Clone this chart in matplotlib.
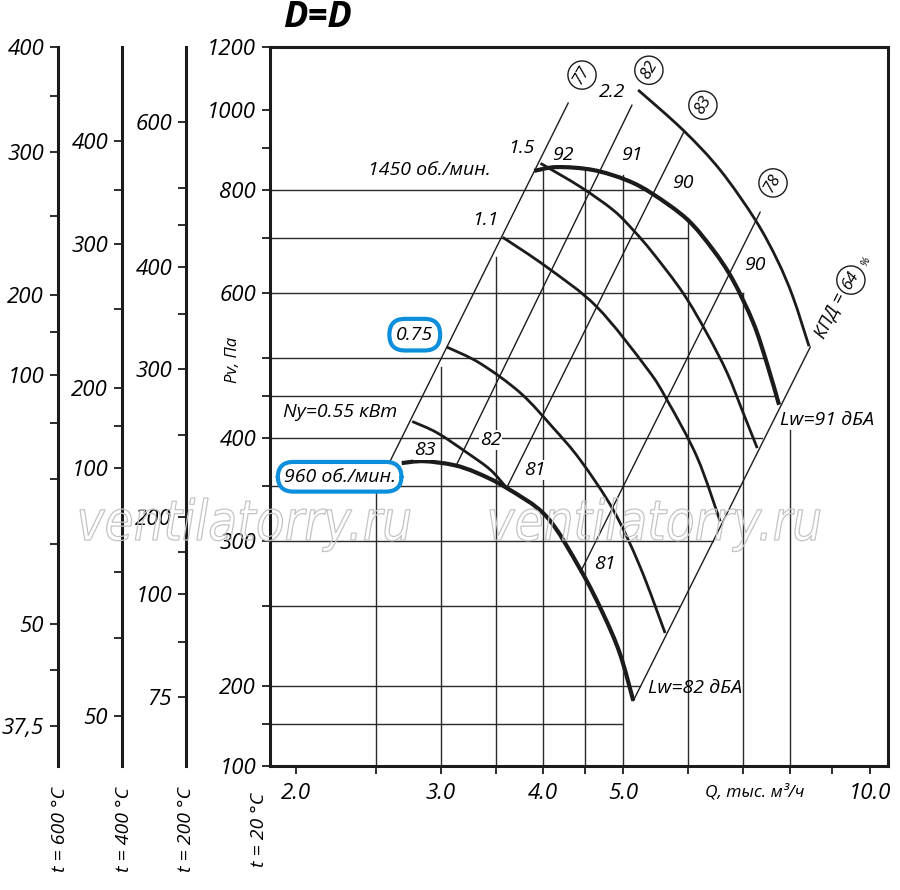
import matplotlib
matplotlib.use('Agg')
import matplotlib.pyplot as plt
import numpy as np
from matplotlib.path import Path
from matplotlib.textpath import TextPath
from matplotlib.patches import PathPatch
from matplotlib.font_manager import FontProperties
from matplotlib.transforms import Affine2D

plt.rcParams['font.family'] = ['Open Sans', 'DejaVu Sans']
plt.rcParams['font.style'] = 'italic'

# data (Q in thousand m3/h, Pv in Pa) ##########################################
q_lim = (1.859, 10.52)
pv_lim = (160, 1193)

# main Pv axis (t = 20 C)
pv_ticks = [160, 180, 200, 250, 300, 350, 400, 450, 500, 600, 700, 800, 900, 1000, 1193]
pv_labels = ['100', '', '200', '', '300', '', '400', '', '', '600', '', '800', '', '1000', '1200']
q_ticks = [2, 2.5, 3, 3.5, 4, 4.5, 5, 6, 7, 8, 9, 10]
q_labels = ['2.0', '', '3.0', '', '4.0', '', '5.0', '', '', '', '', '10.0']

# temperature scales, given as positions on the Pv axis
t600_ticks = [1194, 1040, 890, 744, 597, 538, 477, 417, 357, 298, 238, 209, 179]
t600_labels = ['400', '', '300', '', '200', '', '100', '', '', '', '50', '', '37,5']
t400_ticks = [917, 801, 688, 574, 460, 414, 368, 275, 229, 184]
t400_labels = ['400', '', '300', '', '200', '', '100', '', '', '50']
t200_ticks = [967, 804, 725, 645, 566, 485, 403, 321, 291, 259, 226, 194]
t200_labels = ['600', '', '', '400', '', '300', '', '200', '', '100', '', '75']

# fan curves
n960_q = [2.69, 2.86, 3.11, 3.32, 3.61, 4.04, 4.44, 4.73, 4.96, 5.15]
n960_p = [373, 375, 371, 363, 348, 321, 277, 245, 219, 192]
n1450_q = [3.90, 4.16, 4.60, 5.06, 5.44, 5.99, 6.44, 6.81, 7.21, 7.49, 7.75]
n1450_p = [844, 853, 846, 822, 791, 737, 677, 622, 552, 493, 439]

# motor power curves
ny055_q = [2.77, 2.97, 3.23, 3.45, 3.61]
ny055_p = [419, 406, 384, 366, 348]
ny075_q = [3.05, 3.35, 3.75, 4.11, 4.44, 4.87, 5.25, 5.63]
ny075_p = [516, 493, 454, 412, 376, 327, 279, 232]
ny11_q = [3.57, 4.04, 4.65, 5.35, 5.66, 6.16, 6.57]
ny11_p = [701, 645, 577, 486, 445, 379, 317]
ny15_q = [3.97, 4.44, 4.87, 5.15, 5.44, 5.92, 6.33, 6.70, 7.01, 7.29]
ny15_p = [862, 807, 756, 715, 671, 600, 536, 480, 429, 389]
ny22_q = [5.22, 5.92, 6.57, 7.25, 7.71, 8.06, 8.43]
ny22_p = [1058, 946, 846, 736, 658, 593, 517]

# efficiency rays (start / end)
eff_names = ['77', '82', '83', '78', '64']
eff_q = [(2.60, 4.29), (3.14, 5.13), (3.61, 5.94), (4.44, 7.35), (5.15, 8.46)]
eff_p = [(374, 1020), (372, 1014), (348, 943), (275, 752), (192, 516)]
eff_lab_q = [4.46, 5.38, 6.26, 7.62, 9.48]
eff_lab_p = [1103, 1118, 1014, 816, 622]

# grid
hgrid_p = [800, 700, 600, 500, 450, 400, 350, 300, 250, 200, 180]
hgrid_qend = [5.32, 6.0, 7.0, 7.47, 7.71, 7.39, 6.95, 6.44, 5.86, 5.25, 4.99]
vgrid_q = [2.5, 3.0, 3.5, 4.0, 4.5, 5.0, 6.0, 7.0, 8.0]
vgrid_ptop = [348, 488, 663, 844, 848, 834, 740, 600, 409]

# plain labels on the field
lab_text = ['1450 об./мин.', '1.5', '92', '91', '1.1', '90', '2.2', '90',
            'Ny=0.55 кВт', '83', '82', '81', '81']
lab_q = [2.91, 3.76, 4.23, 5.13, 3.40, 5.92, 4.85, 7.25, 2.26, 2.87, 3.45, 3.91, 4.76]
lab_p = [846, 899, 882, 882, 736, 816, 1052, 649, 430, 387, 398, 366, 281]

# figure #######################################################################
W, H = 900, 890
fig = plt.figure(figsize=(9, 8.9), dpi=100)
ax_box = [270 / W, (H - 766) / H, 618 / W, 719 / H]
ax = fig.add_axes(ax_box)
ax.set_xscale('log')
ax.set_yscale('log')
ax.set_xlim(q_lim)
ax.set_ylim(pv_lim)

ink = '#1b1b1b'
grid_c = '#2a2a2a'


def curve(q, p, lw, z):
    # smooth line through the read points (Catmull-Rom in log space)
    pts = np.column_stack([np.log10(q), np.log10(p)])
    ext = np.vstack([pts[0], pts, pts[-1]])
    verts = [pts[0]]
    codes = [Path.MOVETO]
    for i in range(len(pts) - 1):
        p0, p1, p2, p3 = ext[i], ext[i + 1], ext[i + 2], ext[i + 3]
        verts += [p1 + (p2 - p0) / 6, p2 - (p3 - p1) / 6, p2]
        codes += [Path.CURVE4] * 3
    path = Path(10 ** np.array(verts), codes)
    ax.add_patch(PathPatch(path, fc='none', ec=ink, lw=lw, capstyle='butt', zorder=z))


for p, qe in zip(hgrid_p, hgrid_qend):
    ax.plot([q_lim[0], qe], [p, p], color=grid_c, lw=1.0, zorder=1)
for q, pt in zip(vgrid_q, vgrid_ptop):
    ax.plot([q, q], [pv_lim[0], pt], color=grid_c, lw=1.0, zorder=1)

for (q0, q1), (p0, p1) in zip(eff_q, eff_p):
    ax.plot([q0, q1], [p0, p1], color=ink, lw=1.0, zorder=2)

for q, p in [(ny055_q, ny055_p), (ny075_q, ny075_p), (ny11_q, ny11_p),
             (ny15_q, ny15_p), (ny22_q, ny22_p)]:
    curve(q, p, 2.0, 3)
curve(n960_q, n960_p, 3.0, 4)
curve(n1450_q, n1450_p, 3.0, 4)

# labels
for s, q, p in zip(lab_text, lab_q, lab_p):
    ax.text(q, p, s, ha='center', va='center', fontsize=14, zorder=6,
            bbox=dict(boxstyle='square,pad=0.05', fc='white', ec='none'))

for s, q, p in zip(eff_names, eff_lab_q, eff_lab_p):
    ax.text(q, p, s, ha='center', va='center', fontsize=12, rotation=60, zorder=6,
            bbox=dict(boxstyle='circle,pad=0.3', fc='white', ec=ink, lw=1.0))
ax.text(8.94, 564, 'КПД =', ha='center', va='center', fontsize=13, rotation=63, zorder=6)
ax.text(9.9, 655, '%', ha='center', va='center', fontsize=8, rotation=63, zorder=6)

blue = '#0b8fdc'
ax.text(2.79, 534, '0.75', ha='center', va='center', fontsize=14, zorder=7,
        bbox=dict(boxstyle='round,pad=0.35,rounding_size=0.8', fc='white', ec=blue, lw=3))
ax.text(2.26, 359, '960 об./мин.', ha='center', va='center', fontsize=14, zorder=7,
        bbox=dict(boxstyle='round,pad=0.3,rounding_size=0.8', fc='white', ec=blue, lw=3))

ax.text(7.77, 421, 'Lw=91 дБА', ha='left', va='center', fontsize=14, zorder=6)
ax.text(5.37, 199, 'Lw=82 дБА', ha='left', va='center', fontsize=14, zorder=6)

# axes styling
for s in ax.spines.values():
    s.set_linewidth(2.2)
    s.set_color(ink)
ax.set_xticks(q_ticks, q_labels)
ax.set_yticks(pv_ticks, pv_labels)
ax.xaxis.set_minor_locator(plt.NullLocator())
ax.yaxis.set_minor_locator(plt.NullLocator())
ax.tick_params(direction='out', length=6, width=1.3, labelsize=16, color=ink, pad=4)
ax.tick_params(axis='x', pad=6)


def side_axis(xpx, ticks, labels):
    a = fig.add_axes([xpx / W, ax_box[1], 0.0001, ax_box[3]])
    a.set_yscale('log')
    a.set_ylim(pv_lim)
    a.set_yticks(ticks, labels)
    a.yaxis.set_minor_locator(plt.NullLocator())
    a.set_xticks([])
    for s in ['top', 'right', 'bottom']:
        a.spines[s].set_visible(False)
    a.spines['left'].set_linewidth(2.2)
    a.spines['left'].set_color(ink)
    a.patch.set_visible(False)
    a.tick_params(axis='y', direction='out', length=6, width=1.3, labelsize=16,
                  color=ink, pad=4)
    return a


side_axis(58, t600_ticks, t600_labels)
side_axis(122, t400_ticks, t400_labels)
side_axis(186, t200_ticks, t200_labels)

for xpx, s in [(60, 't = 600 °C'), (124, 't = 400 °C'), (186, 't = 200 °C'), (259, 't = 20 °C')]:
    fig.text(xpx / W, 1 - 830 / H, s, rotation=90, ha='center', va='center', fontsize=14)

fig.text(283 / W, 1 - 18 / H, 'D=D', ha='left', va='center', fontsize=26, weight='bold')
fig.text(233 / W, 1 - 360 / H, 'Pv, Па', rotation=90, ha='center', va='center', fontsize=12)
fig.text(755 / W, 1 - 792 / H, 'Q, тыс. м³/ч', ha='center', va='center', fontsize=12.5)


# watermark
def watermark(x0, base, width, height):
    tp = TextPath((0, 0), 'ventilatorry.ru', size=1,
                  prop=FontProperties(family='DejaVu Sans', style='italic'))
    bb = tp.get_extents()
    sx = width / bb.width
    sy = height / 0.76
    tr = (Affine2D().translate(-bb.x0, 0).scale(sx / 100, sy / 100)
          .translate(x0 / 100, (H - base) / 100) + fig.dpi_scale_trans)
    fig.add_artist(PathPatch(tp, transform=tr, fc='none', ec='#c4c4c4', lw=0.9, zorder=10))


watermark(80, 540, 330, 42)
watermark(490, 540, 330, 42)

fig.savefig('out.png', dpi=100)
